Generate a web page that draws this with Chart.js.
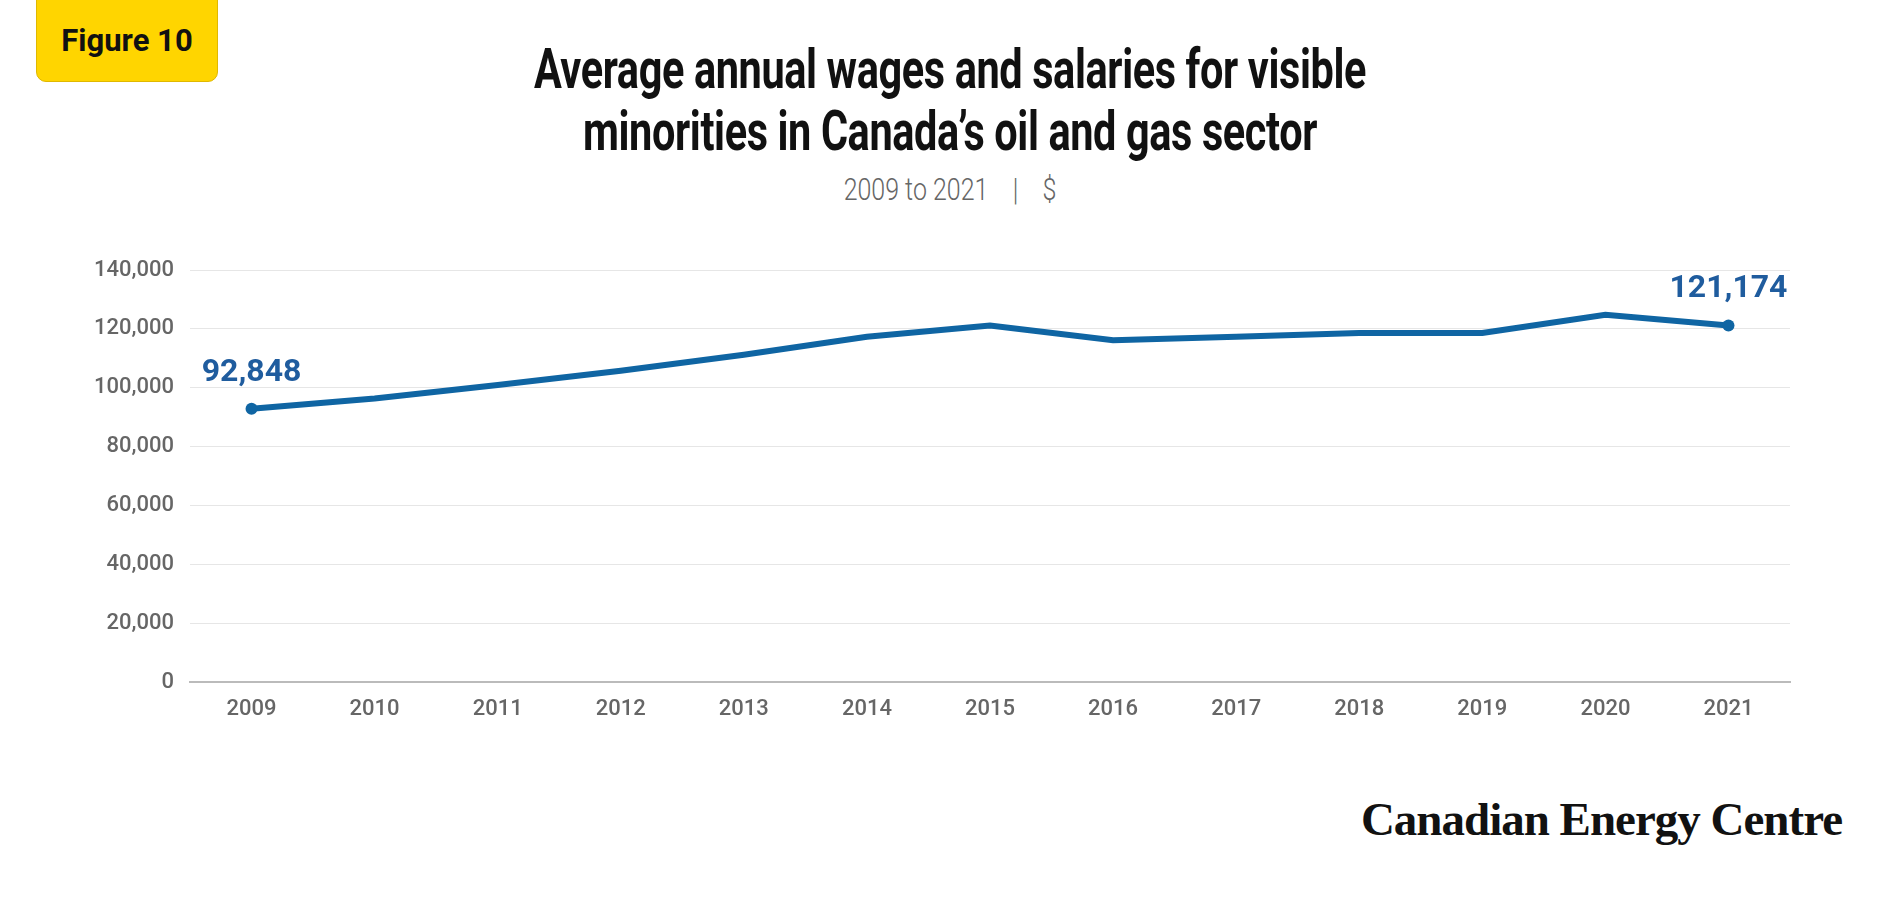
<!DOCTYPE html>
<html>
<head>
<meta charset="utf-8">
<script src="https://cdn.jsdelivr.net/npm/chart.js@4/dist/chart.umd.min.js"></script>
<style>
  body { margin: 0; width: 1900px; height: 900px; background: #fff; position: relative; overflow: hidden; }
  .badge { position: absolute; left: 36px; top: -12px; width: 182px; height: 94px; background: #ffd500;
           border: 1px solid #e0b800; border-radius: 10px; box-sizing: border-box;
           font: bold 31px "Roboto", sans-serif; color: #111; display: flex; align-items: flex-end;
           justify-content: center; padding-bottom: 22px; }
  .title { position: absolute; left: 0; width: 1900px; top: 38px; text-align: center;
           font: bold 56px "Roboto", sans-serif; line-height: 62px; color: #111;
           transform: scaleX(0.74); transform-origin: 50% 0; letter-spacing: -0.5px; }
  .sub { position: absolute; left: 0; width: 1900px; top: 170px; text-align: center;
         font: 300 32px "Roboto", sans-serif; color: #666; transform: scaleX(0.78); transform-origin: 50% 0; }
  .logo { position: absolute; right: 58px; top: 792px; font: bold 47px "Liberation Serif", "DejaVu Serif", serif; color: #111; letter-spacing: -1px; }
  #wrap { position: absolute; left: 60px; top: 240px; width: 1760px; height: 490px; }
</style>
</head>
<body>
<div class="badge">Figure 10</div>
<div class="title">Average annual wages and salaries for visible<br>minorities in Canada’s oil and gas sector</div>
<div class="sub">2009 to 2021 &nbsp;&nbsp;&nbsp;|&nbsp;&nbsp;&nbsp; $</div>
<div id="wrap"><canvas id="c"></canvas></div>
<div class="logo">Canadian Energy Centre</div>
<script>
// data
const years = ['2009','2010','2011','2012','2013','2014','2015','2016','2017','2018','2019','2020','2021'];
const wages = [92848, 96300, 100900, 105800, 111200, 117300, 121100, 116100, 117300, 118600, 118600, 124800, 121174];
const yTicks = [0, 20000, 40000, 60000, 80000, 100000, 120000, 140000];

const lineColor = '#0f65a3';
const tickFont = { family: '"Roboto", sans-serif', size: 22, weight: '500' };

// end labels
const endLabels = {
    id: 'endLabels',
    afterDatasetsDraw(chart) {
        const ctx = chart.ctx;
        const meta = chart.getDatasetMeta(0);
        ctx.save();
        ctx.fillStyle = '#1f5c9e';
        ctx.font = 'bold 32px "Roboto", sans-serif';
        ctx.textAlign = 'center';
        ctx.textBaseline = 'bottom';
        [0, wages.length - 1].forEach(i => {
            const p = meta.data[i];
            ctx.fillText(wages[i].toLocaleString('en-US'), p.x, p.y - 20);
        });
        ctx.restore();
    }
};

new Chart(document.getElementById('c'), {
    type: 'line',
    data: {
        labels: years,
        datasets: [{
            data: wages,
            borderColor: lineColor,
            backgroundColor: lineColor,
            borderWidth: 6,
            tension: 0,
            pointRadius: wages.map((v, i) => (i === 0 || i === wages.length - 1) ? 6 : 0),
            pointBorderWidth: 0
        }]
    },
    options: {
        responsive: true,
        maintainAspectRatio: false,
        animation: false,
        layout: { padding: { top: 30, right: 30, bottom: 0, left: 0 } },
        plugins: { legend: { display: false }, tooltip: { enabled: false } },
        scales: {
            x: {
                offset: true,
                grid: { display: false, drawTicks: false },
                border: { color: '#bbb', width: 2 },
                ticks: { color: '#666', font: tickFont, padding: 14 },
                afterFit(s) { s.height = 48; }
            },
            y: {
                min: 0, max: 140000,
                afterBuildTicks(s) { s.ticks = yTicks.map(v => ({ value: v })); },
                grid: { color: '#e6e6e6', drawTicks: false },
                border: { display: false },
                ticks: { color: '#666', font: tickFont, padding: 16,
                         callback: v => v.toLocaleString('en-US') },
                afterFit(s) { s.width = 130; }
            }
        }
    },
    plugins: [endLabels]
});
</script>
</body>
</html>
